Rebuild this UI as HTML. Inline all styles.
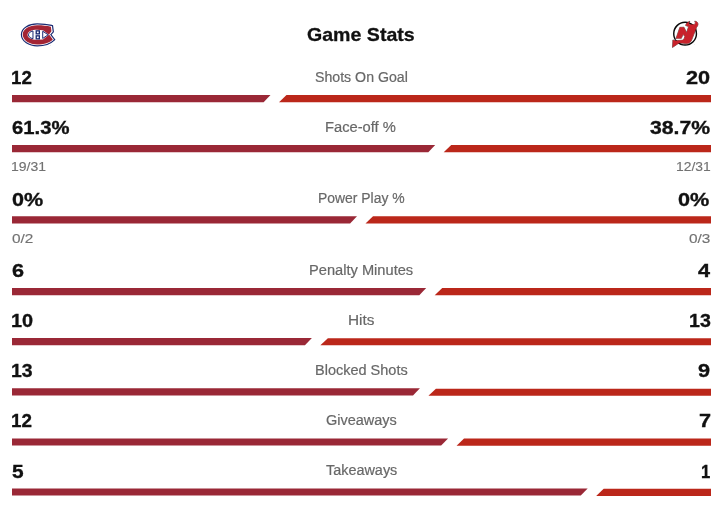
<!DOCTYPE html>
<html lang="en"><head><meta charset="utf-8"><title>Game Stats</title>
<style>
html,body{margin:0;padding:0;background:#fff;}
body{width:720px;height:513px;position:relative;overflow:hidden;font-family:"Liberation Sans",Arial,sans-serif;}
.t{position:absolute;white-space:nowrap;height:40px;line-height:40px;transform-origin:0 50%;}
.title{font-weight:bold;font-size:19px;color:#111;-webkit-text-stroke:.3px #111;}
.v{font-weight:bold;font-size:19px;color:#111;-webkit-text-stroke:.35px #111;}
.lab{font-size:14px;color:#686868;-webkit-text-stroke:.2px #686868;}
.s{font-size:13.5px;color:#727272;-webkit-text-stroke:.15px #727272;}
svg.bars{position:absolute;left:0;top:0;}
.logo{position:absolute;filter:blur(0.25px);}
</style></head><body>
<svg class="bars" width="720" height="513" viewBox="0 0 720 513">
<polygon fill="#9a2836" points="12,95.00 270.50,95.00 263.60,102.15 12,102.15"/>
<polygon fill="#bb271a" points="286.50,95.10 711,95.10 711,102.25 279.00,102.25"/>
<polygon fill="#9a2836" points="12,145.00 435.20,145.00 428.30,152.15 12,152.15"/>
<polygon fill="#bb271a" points="451.20,145.10 711,145.10 711,152.25 443.70,152.25"/>
<polygon fill="#9a2836" points="12,216.25 357.00,216.25 350.10,223.40 12,223.40"/>
<polygon fill="#bb271a" points="373.00,216.35 711,216.35 711,223.50 365.50,223.50"/>
<polygon fill="#9a2836" points="12,288.00 426.20,288.00 419.30,295.15 12,295.15"/>
<polygon fill="#bb271a" points="442.20,288.10 711,288.10 711,295.25 434.70,295.25"/>
<polygon fill="#9a2836" points="12,338.10 311.87,338.10 304.97,345.25 12,345.25"/>
<polygon fill="#bb271a" points="327.87,338.20 711,338.20 711,345.35 320.37,345.35"/>
<polygon fill="#9a2836" points="12,388.25 419.91,388.25 413.01,395.40 12,395.40"/>
<polygon fill="#bb271a" points="435.91,388.65 711,388.65 711,395.80 428.41,395.80"/>
<polygon fill="#9a2836" points="12,438.40 448.05,438.40 441.15,445.55 12,445.55"/>
<polygon fill="#bb271a" points="464.05,438.50 711,438.50 711,445.65 456.55,445.65"/>
<polygon fill="#9a2836" points="12,488.45 587.67,488.45 580.77,495.60 12,495.60"/>
<polygon fill="#bb271a" points="603.67,488.85 711,488.85 711,496.00 596.17,496.00"/>
</svg>
<div class="t title" style="left:307.28px;top:15.02px;transform:scaleX(1.0302)">Game Stats</div>
<div class="t lab" style="left:315.17px;top:56.85px;transform:scaleX(1.0108)">Shots On Goal</div>
<div class="t lab" style="left:325.47px;top:106.85px;transform:scaleX(1.0510)">Face-off %</div>
<div class="t lab" style="left:317.61px;top:178.10px;transform:scaleX(0.9944)">Power Play %</div>
<div class="t lab" style="left:308.82px;top:249.85px;transform:scaleX(1.0459)">Penalty Minutes</div>
<div class="t lab" style="left:347.91px;top:299.95px;transform:scaleX(1.0950)">Hits</div>
<div class="t lab" style="left:314.56px;top:350.10px;transform:scaleX(1.0359)">Blocked Shots</div>
<div class="t lab" style="left:326.00px;top:400.25px;transform:scaleX(1.0349)">Giveaways</div>
<div class="t lab" style="left:325.97px;top:450.30px;transform:scaleX(1.0296)">Takeaways</div>
<div class="t v" style="left:11.44px;top:58.47px;transform:scaleX(0.9834)">12</div>
<div class="t v" style="left:11.97px;top:108.47px;transform:scaleX(1.0660)">61.3%</div>
<div class="t v" style="left:12.08px;top:179.72px;transform:scaleX(1.1343)">0%</div>
<div class="t v" style="left:12.19px;top:251.47px;transform:scaleX(1.1400)">6</div>
<div class="t v" style="left:11.18px;top:300.97px;transform:scaleX(1.0462)">10</div>
<div class="t v" style="left:11.20px;top:351.12px;transform:scaleX(1.0205)">13</div>
<div class="t v" style="left:11.24px;top:401.27px;transform:scaleX(0.9897)">12</div>
<div class="t v" style="left:12.23px;top:451.92px;transform:scaleX(1.0974)">5</div>
<div class="t v" style="left:686.34px;top:58.47px;transform:scaleX(1.1400)">20</div>
<div class="t v" style="left:649.58px;top:108.47px;transform:scaleX(1.1157)">38.7%</div>
<div class="t v" style="left:678.34px;top:179.72px;transform:scaleX(1.1400)">0%</div>
<div class="t v" style="left:698.02px;top:251.47px;transform:scaleX(1.1400)">4</div>
<div class="t v" style="left:689.12px;top:300.97px;transform:scaleX(1.0308)">13</div>
<div class="t v" style="left:698.44px;top:351.12px;transform:scaleX(1.1400)">9</div>
<div class="t v" style="left:698.91px;top:401.27px;transform:scaleX(1.1400)">7</div>
<div class="t v" style="left:701.12px;top:451.92px;transform:scaleX(0.8800)">1</div>
<div class="t s" style="left:11.46px;top:146.72px;transform:scaleX(1.0366)">19/31</div>
<div class="t s" style="left:675.55px;top:146.72px;transform:scaleX(1.0272)">12/31</div>
<div class="t s" style="left:12.35px;top:219.17px;transform:scaleX(1.1400)">0/2</div>
<div class="t s" style="left:688.94px;top:219.17px;transform:scaleX(1.1400)">0/3</div>
<svg class="logo" style="left:16px;top:18px" width="44" height="32" viewBox="0 0 705 513">
<path id="mtlo" d="M108 265C108 177 215 116 340 116C430 116 500 124 566 140L576 215L532 266L592 345C540 398 450 425 340 425C215 425 108 358 108 265Z" fill="#1a2a72" stroke="#1a2a72" stroke-width="62" stroke-linejoin="miter" stroke-miterlimit="3"/>
<path d="M108 265C108 177 215 116 340 116C430 116 500 124 566 140L576 215L532 266L592 345C540 398 450 425 340 425C215 425 108 358 108 265Z" fill="#fff" stroke="#fff" stroke-width="24" stroke-linejoin="miter" stroke-miterlimit="3"/>
<path fill-rule="evenodd" fill="#a32434" d="M108 265C108 177 215 116 340 116C430 116 500 124 559 141L568 214L530 266L590 345C540 398 450 425 340 425C215 425 108 358 108 265ZM185 270C185 220 250 190 340 190L432 196L528 269L432 344L340 350C250 350 185 322 185 270Z"/>
<path d="M272 208C225 215 200 245 200 270C200 295 225 325 272 332Z" fill="#fff" stroke="#1a2a72" stroke-width="16" stroke-linejoin="round"/>
<path d="M428 212L516 269L428 328Z" fill="#fff" stroke="#1a2a72" stroke-width="16" stroke-linejoin="round"/>
<rect x="324" y="206" width="50" height="48" fill="#fff" stroke="#1a2a72" stroke-width="21"/>
<rect x="324" y="286" width="50" height="48" fill="#fff" stroke="#1a2a72" stroke-width="21"/>
<circle cx="548" cy="437" r="6" fill="#bbb"/>
</svg>
<svg class="logo" style="left:668px;top:18px" width="36" height="32" viewBox="0 0 577 513">
<circle cx="274" cy="251" r="182" fill="#fff" stroke="#0a0a0a" stroke-width="23"/>
<path fill="#c8222b" stroke="#2a0a0c" stroke-width="10" stroke-linejoin="round" paint-order="stroke" d="M190 150L256 148L298 234L330 138L283 120C288 92 310 68 350 52C326 80 332 100 352 104L412 104C440 102 446 76 428 52C478 54 500 100 458 150L378 355C362 395 330 410 285 408L185 400L160 412L72 472L78 352L125 366L232 352C250 350 258 338 262 322L270 296L242 262L212 330L128 330Z"/>
<path d="M122 341L236 341" stroke="#fff" stroke-width="10"/>
<circle cx="428" cy="420" r="5" fill="#bbb"/>
</svg>

</body></html>
